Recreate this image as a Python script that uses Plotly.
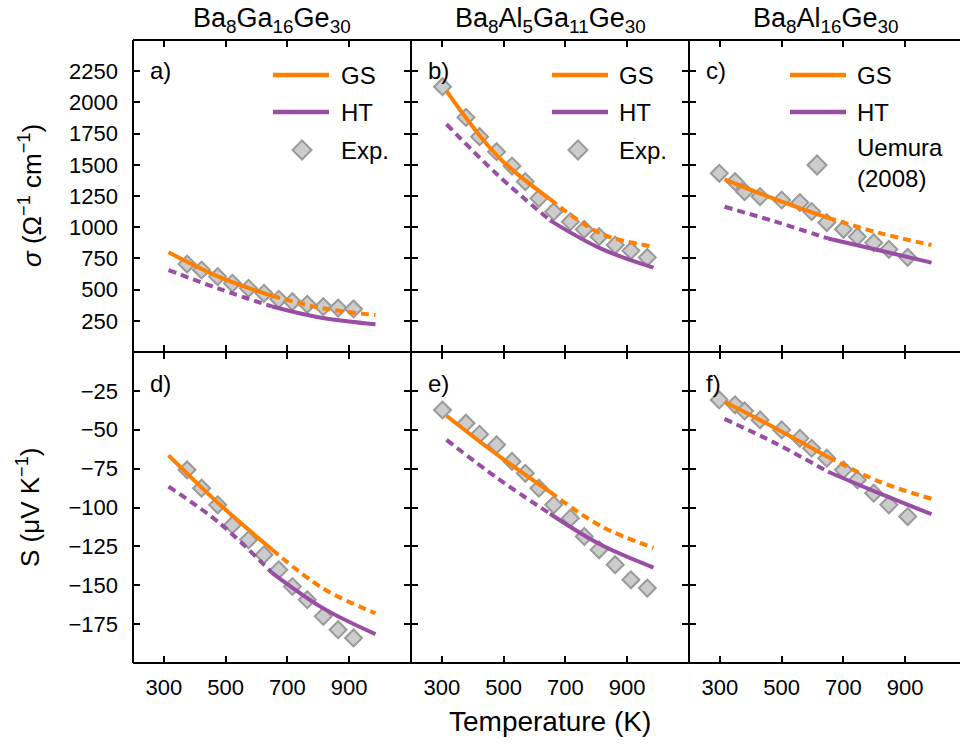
import plotly.graph_objects as go
from plotly.subplots import make_subplots

# ---- measured points (temperature in K) ----
T_EXP_A = [375, 422, 474, 522, 574, 624, 672, 716, 764, 816, 864, 914]
T_EXP_B = [302, 378, 422, 477, 527, 570, 614, 662, 716, 761, 809, 861, 912, 965]
T_EXP_C = [298, 349, 380, 430, 500, 559, 597, 646, 700, 745, 798, 847, 908]

SIG_EXP_A = [705, 657, 604, 550, 510, 470, 422, 403, 382, 363, 352, 345]
SIG_EXP_B = [2126, 1880, 1725, 1605, 1490, 1365, 1231, 1124, 1044, 982, 924, 857, 812, 758]
SIG_EXP_C = [1432, 1365, 1285, 1245, 1218, 1197, 1125, 1037, 983, 924, 876, 823, 759]

S_EXP_A = [-75.8, -87.6, -98.3, -111.2, -120.8, -130.4, -140.1, -150.8, -159.3, -170.0, -178.6, -183.9]
S_EXP_B = [-37.3, -45.8, -52.9, -59.7, -70.4, -78.0, -87.6, -98.3, -106.9, -118.6, -127.2, -136.8, -146.5, -151.8]
S_EXP_C = [-30.8, -34.0, -37.9, -43.7, -50.1, -55.5, -61.9, -68.3, -75.8, -82.3, -90.8, -98.3, -105.8]

# ---- calculated curves (GS = ground state, HT = high temperature) ----
T_CALC = [315, 480, 650, 815, 985]
T_SWITCH = 650  # GS solid below, HT solid above

GS_SIG_A = [799, 600, 450, 350, 296]
HT_SIG_A = [657, 505, 365, 272, 222]
GS_SIG_B = [2090, 1570, 1225, 948, 845]
HT_SIG_B = [1825, 1420, 1055, 828, 676]
GS_SIG_C = [1384, 1223, 1075, 955, 857]
HT_SIG_C = [1164, 1044, 910, 815, 716]

GS_S_A = [-66.5, -97.9, -127.0, -152.0, -168.0]
HT_S_A = [-86.5, -110.0, -142.0, -164.7, -181.4]
GS_S_B = [-41.0, -66.2, -90.0, -112.0, -126.0]
HT_S_B = [-56.5, -81.2, -104.0, -124.0, -138.6]
GS_S_C = [-32.0, -49.0, -67.5, -83.3, -94.4]
HT_S_C = [-43.0, -58.7, -77.0, -90.8, -104.3]

# ---- axis ticks ----
T_TICKS = [300, 500, 700, 900]
SIG_TICKS = [250, 500, 750, 1000, 1250, 1500, 1750, 2000, 2250]
S_TICKS = [-175, -150, -125, -100, -75, -50, -25]

TITLES = ["Ba<sub>8</sub>Ga<sub>16</sub>Ge<sub>30</sub>",
          "Ba<sub>8</sub>Al<sub>5</sub>Ga<sub>11</sub>Ge<sub>30</sub>",
          "Ba<sub>8</sub>Al<sub>16</sub>Ge<sub>30</sub>"]
LETTERS = [["a)", "b)", "c)"], ["d)", "e)", "f)"]]
EXP_NAMES = ["Exp.", "Exp.", "Uemura<br>(2008)"]

ORANGE = "#ff7f00"
PURPLE = "#984ea3"
FILL = "#cccccc"
EDGE = "#999999"
FONT = "Liberation Sans, Arial, Helvetica, sans-serif"

# ---- geometry (pixels) ----
W, H = 960, 746
ML, MT, MB = 133, 40, 83
COL_W = [278, 278, 271]
ROW_H = [312, 311]
PW = sum(COL_W)
PH = sum(ROW_H)
PX_PER_K = 278 / 900.0
COL_LEFT = [ML, ML + COL_W[0], ML + COL_W[0] + COL_W[1]]
ROW_TOP = [MT, MT + ROW_H[0]]


def px(x):
    return (x - ML) / PW


def py(y):
    return (MT + PH - y) / PH


fig = make_subplots(rows=2, cols=3, column_widths=COL_W, row_heights=ROW_H,
                    horizontal_spacing=0, vertical_spacing=0)

exp_t = [T_EXP_A, T_EXP_B, T_EXP_C]
exp_vals = [[SIG_EXP_A, SIG_EXP_B, SIG_EXP_C], [S_EXP_A, S_EXP_B, S_EXP_C]]
gs_vals = [[GS_SIG_A, GS_SIG_B, GS_SIG_C], [GS_S_A, GS_S_B, GS_S_C]]
ht_vals = [[HT_SIG_A, HT_SIG_B, HT_SIG_C], [HT_S_A, HT_S_B, HT_S_C]]

k = T_CALC.index(T_SWITCH)
dash = "8px,5px"

for r in range(2):
    for c in range(3):
        # measured points
        fig.add_trace(go.Scatter(
            x=exp_t[c], y=exp_vals[r][c], mode="markers", showlegend=False,
            marker=dict(symbol="diamond", size=13, color=FILL,
                        line=dict(color=EDGE, width=2))), row=r + 1, col=c + 1)
        gs = gs_vals[r][c]
        ht = ht_vals[r][c]
        segs = [
            (T_CALC[:k + 1], ht[:k + 1], PURPLE, dash),
            (T_CALC[k:], ht[k:], PURPLE, "solid"),
            (T_CALC[:k + 1], gs[:k + 1], ORANGE, "solid"),
            (T_CALC[k:], gs[k:], ORANGE, dash),
        ]
        for tx, vy, col, ds in segs:
            fig.add_trace(go.Scatter(
                x=tx, y=vy, mode="lines", showlegend=False,
                line=dict(color=col, width=4, dash=ds, shape="spline")),
                row=r + 1, col=c + 1)

# frame lines are drawn as shapes so shared panel edges stay single-width
axis_common = dict(ticks="inside", ticklen=7, tickwidth=1.5, tickcolor="black",
                   showline=False, showgrid=False, zeroline=False,
                   tickfont=dict(family=FONT, size=22, color="black"))

for r in range(2):
    for c in range(3):
        xr = [200, 200 + COL_W[c] / PX_PER_K]
        fig.update_xaxes(range=xr, tickvals=T_TICKS, mirror="allticks",
                         showticklabels=(r == 1), ticklabelstandoff=9,
                         row=r + 1, col=c + 1, **axis_common)
        if r == 0:
            yr, yt = [0, 2500], SIG_TICKS
        else:
            yr, yt = [-200, 0], S_TICKS
        fig.update_yaxes(range=yr, tickvals=yt,
                         mirror=("allticks" if c < 2 else False),
                         showticklabels=(c == 0), ticklabelstandoff=14,
                         row=r + 1, col=c + 1, **axis_common)

ann = []
shapes = []

frame = dict(color="black", width=2)
for xx in [ML, COL_LEFT[1], COL_LEFT[2]]:
    shapes.append(dict(type="line", xref="paper", yref="paper", x0=px(xx), x1=px(xx),
                       y0=0, y1=1, line=frame, layer="above"))
for yy in [MT, ROW_TOP[1], MT + PH]:
    shapes.append(dict(type="line", xref="paper", yref="paper", x0=0, x1=1,
                       y0=py(yy), y1=py(yy), line=frame, layer="above"))

# column headings
centers = [272, 550, 826]
for c in range(3):
    ann.append(dict(text=TITLES[c], x=px(centers[c]), y=py(20), xref="paper", yref="paper",
                    showarrow=False, xanchor="center", yanchor="middle",
                    font=dict(family=FONT, size=27, color="black")))

# axis titles
ann.append(dict(text="Temperature (K)", x=px(550), y=py(721), xref="paper", yref="paper",
                showarrow=False, xanchor="center", yanchor="middle",
                font=dict(family=FONT, size=28, color="black")))
ann.append(dict(text="<i>σ</i> (Ω<sup>−1</sup> cm<sup>−1</sup>)", x=px(30), y=py(196),
                xref="paper", yref="paper", showarrow=False, textangle=-90,
                xanchor="center", yanchor="middle",
                font=dict(family=FONT, size=26, color="black")))
ann.append(dict(text="S (μV K<sup>−1</sup>)", x=px(28), y=py(507),
                xref="paper", yref="paper", showarrow=False, textangle=-90,
                xanchor="center", yanchor="middle",
                font=dict(family=FONT, size=26, color="black")))

# panel letters
for r in range(2):
    for c in range(3):
        ann.append(dict(text=LETTERS[r][c], x=px(COL_LEFT[c] + 15), y=py(ROW_TOP[r] + 31),
                        xref="paper", yref="paper", showarrow=False,
                        xanchor="left", yanchor="middle",
                        font=dict(family=FONT, size=24, color="black")))

# legend keys in the upper panels (offsets from panel left edge)
key_x0 = [140, 141, 101]
key_text = [206, 206, 166]
key_dia = [169, 167, 128]
key_dia_y = [150, 150, 165]
key_exp_y = [150, 150, 163]
for c in range(3):
    L = COL_LEFT[c]
    for yy, col, name in [(75, ORANGE, "GS"), (112, PURPLE, "HT")]:
        shapes.append(dict(type="line", xref="paper", yref="paper",
                           x0=px(L + key_x0[c]), x1=px(L + key_x0[c] + 56),
                           y0=py(yy), y1=py(yy), line=dict(color=col, width=4.5)))
        ann.append(dict(text=name, x=px(L + key_text[c]), y=py(yy), xref="paper", yref="paper",
                        showarrow=False, xanchor="left", yanchor="middle",
                        font=dict(family=FONT, size=24, color="black")))
    shapes.append(dict(type="path", xref="paper", yref="paper",
                       xsizemode="pixel", ysizemode="pixel",
                       xanchor=px(L + key_dia[c]), yanchor=py(key_dia_y[c]),
                       path="M 0 9.5 L 9.5 0 L 0 -9.5 L -9.5 0 Z",
                       fillcolor=FILL, line=dict(color=EDGE, width=2)))
    ann.append(dict(text=EXP_NAMES[c], x=px(L + key_text[c]), y=py(key_exp_y[c]),
                    xref="paper", yref="paper", showarrow=False, xanchor="left",
                    yanchor="middle", align="left",
                    font=dict(family=FONT, size=24, color="black")))

fig.update_layout(width=W, height=H, margin=dict(l=ML, r=0, t=MT, b=MB),
                  paper_bgcolor="white", plot_bgcolor="white",
                  annotations=ann, shapes=shapes, showlegend=False)

fig.write_html("out.html")
